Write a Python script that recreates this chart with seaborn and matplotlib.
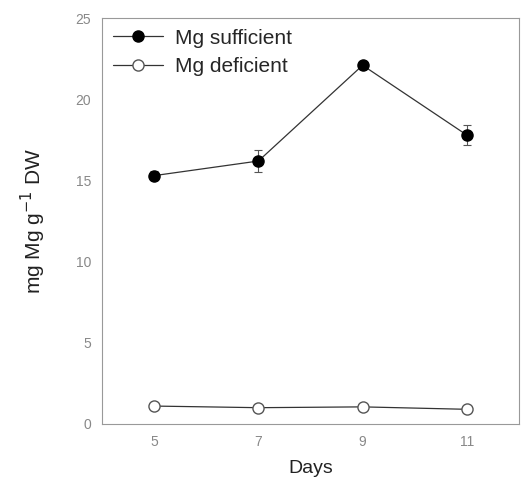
import matplotlib
matplotlib.use('Agg')
import matplotlib.pyplot as plt
import numpy as np
import pandas as pd
import seaborn as sns

days = [5, 7, 9, 11]
mg_sufficient = [15.3, 16.2, 22.1, 17.8]
mg_sufficient_err = [0.3, 0.7, 0.2, 0.6]
mg_deficient = [1.1, 1.0, 1.05, 0.9]
mg_deficient_err = [0.1, 0.1, 0.1, 0.1]
series_names = ['Mg sufficient', 'Mg deficient']
y_ticks = [0, 5, 10, 15, 20, 25]
x_ticks = [5, 7, 9, 11]

sns.set_style('white')
plt.rcParams['font.family'] = ['Liberation Sans', 'DejaVu Sans']

df = pd.DataFrame({
    'day': days * 2,
    'value': mg_sufficient + mg_deficient,
    'err': mg_sufficient_err + mg_deficient_err,
    'series': [series_names[0]] * 4 + [series_names[1]] * 4,
})

fig = plt.figure(figsize=(5.21, 4.79), dpi=100)
ax = fig.add_axes([0.196, 0.115, 0.800, 0.847])

styles = {
    series_names[0]: dict(mfc='black', mec='black'),
    series_names[1]: dict(mfc='white', mec='#555555'),
}
for name in series_names:
    sub = df[df['series'] == name]
    ax.errorbar(sub['day'], sub['value'], yerr=sub['err'], fmt='none',
                ecolor='#555555', elinewidth=0.8, capsize=3, capthick=0.8, zorder=2)
    sns.lineplot(data=sub, x='day', y='value', ax=ax, color='#333333',
                 linewidth=0.9, marker='o', markersize=8, label=name,
                 markeredgewidth=1, zorder=3, **styles[name])

ax.set_xlim(4, 12)
ax.set_ylim(0, 25)
ax.set_xticks(x_ticks)
ax.set_yticks(y_ticks)
ax.tick_params(direction='in', length=4, width=0.8, colors='#777777',
               labelsize=10, labelcolor='#888888', pad=8)
for s in ax.spines.values():
    s.set_color('#999999')
    s.set_linewidth(0.8)
    s.set_visible(True)

ax.set_xlabel('Days', fontsize=14, color='#222222', labelpad=8)
ax.set_ylabel('mg Mg g$^{-1}$ DW', fontsize=15, color='#222222', labelpad=20)

leg = ax.legend(loc='upper left', frameon=False, fontsize=15,
                handlelength=2.4, borderaxespad=0.1, handletextpad=0.6,
                labelspacing=0.45)

fig.savefig('out.png', dpi=100)
